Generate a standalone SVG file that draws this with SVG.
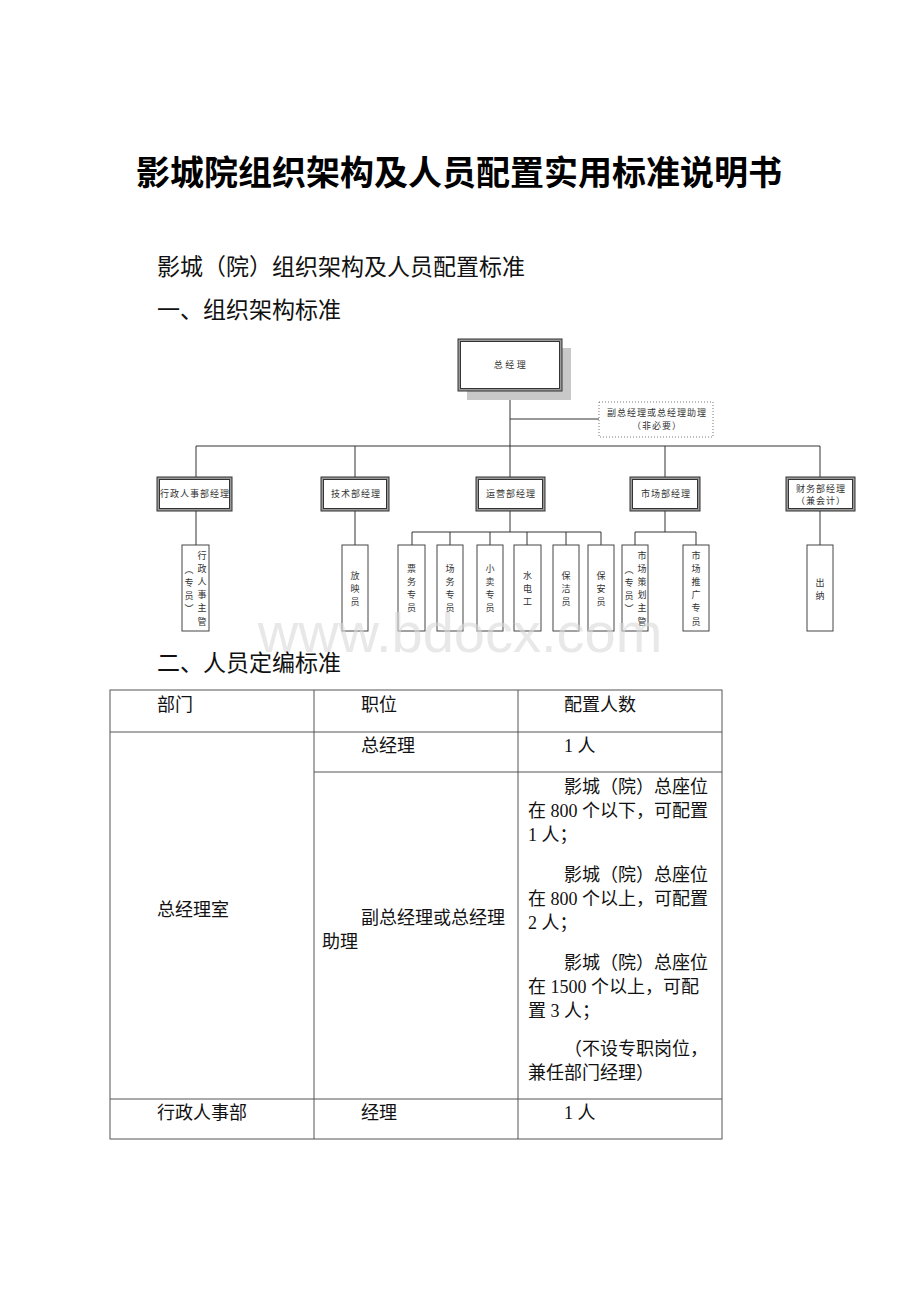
<svg xmlns="http://www.w3.org/2000/svg" width="920" height="1302" viewBox="0 0 920 1302">
<style>
.ln{stroke:#333;stroke-width:1;fill:none}
.tl{stroke:#555;stroke-width:1;fill:none}
.sub{fill:#fff;stroke:#444;stroke-width:1}
.mo{fill:#9a9a9a;stroke:#333;stroke-width:1}
.mi{fill:#fff;stroke:#333;stroke-width:1}
.t9{font-family:"Noto Sans CJK SC",sans-serif;font-size:9px;fill:#333;text-anchor:middle}
.th{font-family:"Noto Sans CJK SC",sans-serif;font-size:9px;fill:#333;text-anchor:middle;letter-spacing:1px}
.tb{font-family:"Liberation Serif","Noto Sans CJK SC",serif;font-size:18px;fill:#111}
.hd{font-family:"Liberation Serif","Noto Sans CJK SC",serif;font-size:23px;fill:#111}
</style>
<rect width="920" height="1302" fill="#fff"/>
<text x="459" y="185" text-anchor="middle" style="font-family:'Noto Sans CJK SC',sans-serif;font-size:34px;font-weight:bold;fill:#000">影城院组织架构及人员配置实用标准说明书</text>
<text class="hd" x="157" y="275">影城（院）组织架构及人员配置标准</text>
<text class="hd" x="157" y="318">一、组织架构标准</text>
<g id="connectors">
<path class="ln" d="M510 391V446M510 419H599M196 446H820M196 446V477M355 446V477M510 446V477M665 446V477M820 446V477"/>
<path class="ln" d="M196 511V545M355 511V545M820 511V545"/>
<path class="ln" d="M510 511V532M412 532H601M412 532V545M450 532V545M490 532V545M527 532V545M566 532V545M601 532V545"/>
<path class="ln" d="M665 511V532M635 532H696M635 532V545M696 532V545"/>
</g>
<g id="gm">
<rect x="467" y="348" width="104" height="52" fill="#c8c8c8"/>
<rect x="458" y="339" width="104" height="52" class="mo"/>
<rect x="460.5" y="341.5" width="99" height="47" class="mi"/>
<text class="th" x="511" y="368" style="letter-spacing:2.5px">总经理</text>
</g>
<g id="deputy">
<rect x="599" y="402" width="114" height="35" fill="#fff" stroke="#777" stroke-width="1" stroke-dasharray="1,2"/>
<text class="th" x="657" y="416">副总经理或总经理助理</text>
<text class="th" x="657" y="429">（非必要）</text>
</g>
<g id="admin">
<rect x="157" y="477" width="75" height="34" class="mo"/>
<rect x="159.5" y="479.5" width="70" height="29" class="mi"/>
<text class="th" x="195" y="497">行政人事部经理</text>
</g>
<g id="tech">
<rect x="321" y="477" width="68" height="34" class="mo"/>
<rect x="323.5" y="479.5" width="63" height="29" class="mi"/>
<text class="th" x="356" y="497">技术部经理</text>
</g>
<g id="ops">
<rect x="476" y="477" width="69" height="34" class="mo"/>
<rect x="478.5" y="479.5" width="64" height="29" class="mi"/>
<text class="th" x="511" y="497">运营部经理</text>
</g>
<g id="mkt">
<rect x="630" y="477" width="70" height="34" class="mo"/>
<rect x="632.5" y="479.5" width="65" height="29" class="mi"/>
<text class="th" x="666" y="497">市场部经理</text>
</g>
<g id="fin">
<rect x="786" y="477" width="69" height="34" class="mo"/>
<rect x="788.5" y="479.5" width="64" height="29" class="mi"/>
<text class="th" x="821" y="492">财务部经理</text>
<text class="th" x="821" y="504">（兼会计）</text>
</g>
<g id="admin-sup">
<rect x="182" y="545" width="27" height="86" class="sub"/>
<text class="t9"><tspan x="202" y="558.5">行</tspan><tspan x="202" y="571.7">政</tspan><tspan x="202" y="584.9">人</tspan><tspan x="202" y="598.1">事</tspan><tspan x="202" y="611.3">主</tspan><tspan x="202" y="624.5">管</tspan></text>
<text class="t9"><tspan x="189" y="572.7">︵</tspan><tspan x="189" y="585.9">专</tspan><tspan x="189" y="599.1">员</tspan><tspan x="189" y="612.3">︶</tspan></text>
</g>
<g id="proj">
<rect x="342" y="545" width="26" height="86" class="sub"/>
<text class="t9"><tspan x="355" y="578.5">放</tspan><tspan x="355" y="591.5">映</tspan><tspan x="355" y="604.5">员</tspan></text>
</g>
<g id="ticket">
<rect x="398" y="545" width="27" height="86" class="sub"/>
<text class="t9"><tspan x="411.5" y="571.7">票</tspan><tspan x="411.5" y="584.9">务</tspan><tspan x="411.5" y="598.1">专</tspan><tspan x="411.5" y="611.3">员</tspan></text>
</g>
<g id="floor">
<rect x="437" y="545" width="26" height="86" class="sub"/>
<text class="t9"><tspan x="450" y="571.7">场</tspan><tspan x="450" y="584.9">务</tspan><tspan x="450" y="598.1">专</tspan><tspan x="450" y="611.3">员</tspan></text>
</g>
<g id="snack">
<rect x="477" y="545" width="26" height="86" class="sub"/>
<text class="t9"><tspan x="490" y="571.7">小</tspan><tspan x="490" y="584.9">卖</tspan><tspan x="490" y="598.1">专</tspan><tspan x="490" y="611.3">员</tspan></text>
</g>
<g id="elec">
<rect x="514" y="545" width="27" height="86" class="sub"/>
<text class="t9"><tspan x="527.5" y="578.5">水</tspan><tspan x="527.5" y="591.5">电</tspan><tspan x="527.5" y="604.5">工</tspan></text>
</g>
<g id="clean">
<rect x="553" y="545" width="26" height="86" class="sub"/>
<text class="t9"><tspan x="566" y="578.5">保</tspan><tspan x="566" y="591.5">洁</tspan><tspan x="566" y="604.5">员</tspan></text>
</g>
<g id="guard">
<rect x="588" y="545" width="26" height="86" class="sub"/>
<text class="t9"><tspan x="601" y="578.5">保</tspan><tspan x="601" y="591.5">安</tspan><tspan x="601" y="604.5">员</tspan></text>
</g>
<g id="mkt-plan">
<rect x="622" y="545" width="26" height="86" class="sub"/>
<text class="t9"><tspan x="642" y="558.5">市</tspan><tspan x="642" y="571.7">场</tspan><tspan x="642" y="584.9">策</tspan><tspan x="642" y="598.1">划</tspan><tspan x="642" y="611.3">主</tspan><tspan x="642" y="624.5">管</tspan></text>
<text class="t9"><tspan x="629" y="572.7">︵</tspan><tspan x="629" y="585.9">专</tspan><tspan x="629" y="599.1">员</tspan><tspan x="629" y="612.3">︶</tspan></text>
</g>
<g id="mkt-promo">
<rect x="683" y="545" width="26" height="86" class="sub"/>
<text class="t9"><tspan x="696" y="558.5">市</tspan><tspan x="696" y="571.7">场</tspan><tspan x="696" y="584.9">推</tspan><tspan x="696" y="598.1">广</tspan><tspan x="696" y="611.3">专</tspan><tspan x="696" y="624.5">员</tspan></text>
</g>
<g id="cashier">
<rect x="807" y="545" width="26" height="86" class="sub"/>
<text class="t9"><tspan x="820" y="586">出</tspan><tspan x="820" y="599">纳</tspan></text>
</g>
<text x="460" y="652" text-anchor="middle" style="font-family:'Liberation Sans',sans-serif;font-size:56px;fill:#d8d8d8;fill-opacity:0.6">www.bdocx.com</text>
<text class="hd" x="157" y="671">二、人员定编标准</text>
<g id="table">
<rect x="110" y="690" width="612" height="449" class="tl"/>
<path class="tl" d="M314 690V1139M518 690V1139M110 732H722M314 772H722M110 1099H722"/>
<text class="tb" x="157" y="711">部门</text>
<text class="tb" x="361" y="711">职位</text>
<text class="tb" x="564" y="711">配置人数</text>
<text class="tb" x="361" y="752">总经理</text>
<text class="tb" x="564" y="752">1 人</text>
<text class="tb" x="157" y="916">总经理室</text>
<text class="tb" x="361" y="924">副总经理或总经理</text>
<text class="tb" x="322" y="948">助理</text>
<text class="tb" x="564" y="793">影城（院）总座位</text>
<text class="tb" x="528" y="817">在 800 个以下，可配置</text>
<text class="tb" x="528" y="841">1 人；</text>
<text class="tb" x="564" y="881">影城（院）总座位</text>
<text class="tb" x="528" y="905">在 800 个以上，可配置</text>
<text class="tb" x="528" y="929">2 人；</text>
<text class="tb" x="564" y="969">影城（院）总座位</text>
<text class="tb" x="528" y="993">在 1500 个以上，可配</text>
<text class="tb" x="528" y="1017">置 3 人；</text>
<text class="tb" x="564" y="1055">（不设专职岗位，</text>
<text class="tb" x="528" y="1079">兼任部门经理）</text>
<text class="tb" x="157" y="1119">行政人事部</text>
<text class="tb" x="361" y="1119">经理</text>
<text class="tb" x="564" y="1119">1 人</text>
</g>
</svg>
